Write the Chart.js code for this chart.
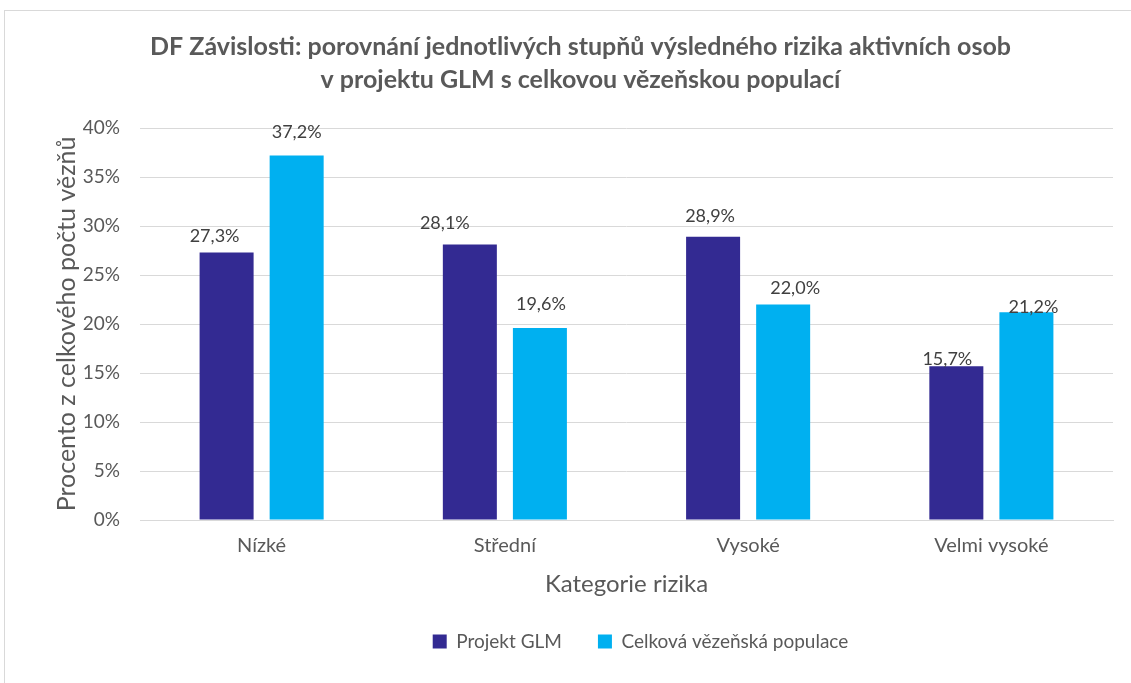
<!DOCTYPE html>
<html><head><meta charset="utf-8">
<script src="https://cdn.jsdelivr.net/npm/chart.js@4"></script>
<style>
html,body{margin:0;padding:0;background:#fff;}
#wrap{position:absolute;left:4px;top:10px;width:1140px;height:680px;border:1px solid #d9d9d9;box-sizing:border-box;}
#c{position:absolute;left:0;top:0;}
</style></head><body>
<div id="wrap"></div>
<canvas id="c" width="1131" height="683"></canvas>
<script>
const categories = ["Nízké","Střední","Vysoké","Velmi vysoké"];
const seriesNames = ["Projekt GLM","Celková vězeňská populace"];
const glm = [27.3, 28.1, 28.9, 15.7];
const population = [37.2, 19.6, 22.0, 21.2];
const yTicks = [0,5,10,15,20,25,30,35,40];
const titleLines = ["DF Závislosti: porovnání jednotlivých stupňů výsledného rizika aktivních osob","v projektu GLM s celkovou vězeňskou populací"];

const FONT = "Lato, 'Open Sans', sans-serif";
const fmt = v => v.toFixed(1).replace('.', ',') + '%';

// label placement (style): [dx, gap above bar top] per dataset/category, as dragged in the original
const labelPlacement = [
  [[-12,16],[-25,21],[-3,21],[-9,7]],
  [[0,23],[1,24],[12,16],[7,5]]
];

const labelPlugin = {
  id:'labels',
  afterLayout(chart){
    if (chart.legend) { chart.legend.left += 60; chart.legend.right += 60; }
  },
  afterDatasetsDraw(chart){
    const ctx = chart.ctx;
    ctx.save();
    ctx.font = "18px " + FONT;
    ctx.fillStyle = "#404040";
    ctx.textAlign = "center";
    ctx.textBaseline = "middle";
    chart.data.datasets.forEach((ds,i)=>{
      chart.getDatasetMeta(i).data.forEach((bar,j)=>{
        const p = labelPlacement[i][j];
        ctx.fillText(fmt(ds.data[j]), bar.x + p[0], bar.y - p[1]);
      });
    });
    ctx.restore();
  }
};

new Chart(document.getElementById('c'), {
  type:'bar',
  data:{
    labels:categories,
    datasets:[
      {label:seriesNames[0], data:glm, backgroundColor:'#332a92'},
      {label:seriesNames[1], data:population, backgroundColor:'#00b0f0'}
    ]
  },
  options:{
    responsive:false,
    animation:false,
    layout:{padding:{left:48,right:18,top:20,bottom:22}},
    datasets:{bar:{categoryPercentage:0.576, barPercentage:0.771}},
    plugins:{
      title:{display:true, text:titleLines, color:'#595959', font:{family:FONT, size:25, weight:'bold', lineHeight:1.32}, padding:{top:10,bottom:32}},
      legend:{position:'bottom', labels:{color:'#595959', font:{family:FONT,size:19}, boxWidth:14, boxHeight:14, padding:36}},
      tooltip:{enabled:false}
    },
    scales:{
      x:{
        grid:{display:false},
        border:{color:'#d9d9d9'},
        ticks:{color:'#595959', font:{family:FONT,size:20}, padding:6},
        title:{display:true, text:'Kategorie rizika', color:'#595959', font:{family:FONT,size:24,lineHeight:1.0}, padding:{top:8,bottom:0}}
      },
      y:{
        min:0, max:40,
        afterBuildTicks(axis){ axis.ticks = yTicks.map(v=>({value:v})); },
        afterFit(axis){ axis.width = 92; },
        grid:{color:'#d9d9d9', drawTicks:false},
        border:{display:false},
        ticks:{color:'#595959', font:{family:FONT,size:19}, padding:20, callback:v=>v+'%'},
        title:{display:true, text:'Procento z celkového počtu vězňů', color:'#595959', font:{family:FONT,size:25}, padding:{top:4,bottom:4}}
      }
    }
  },
  plugins:[labelPlugin]
});
</script>
</body></html>
